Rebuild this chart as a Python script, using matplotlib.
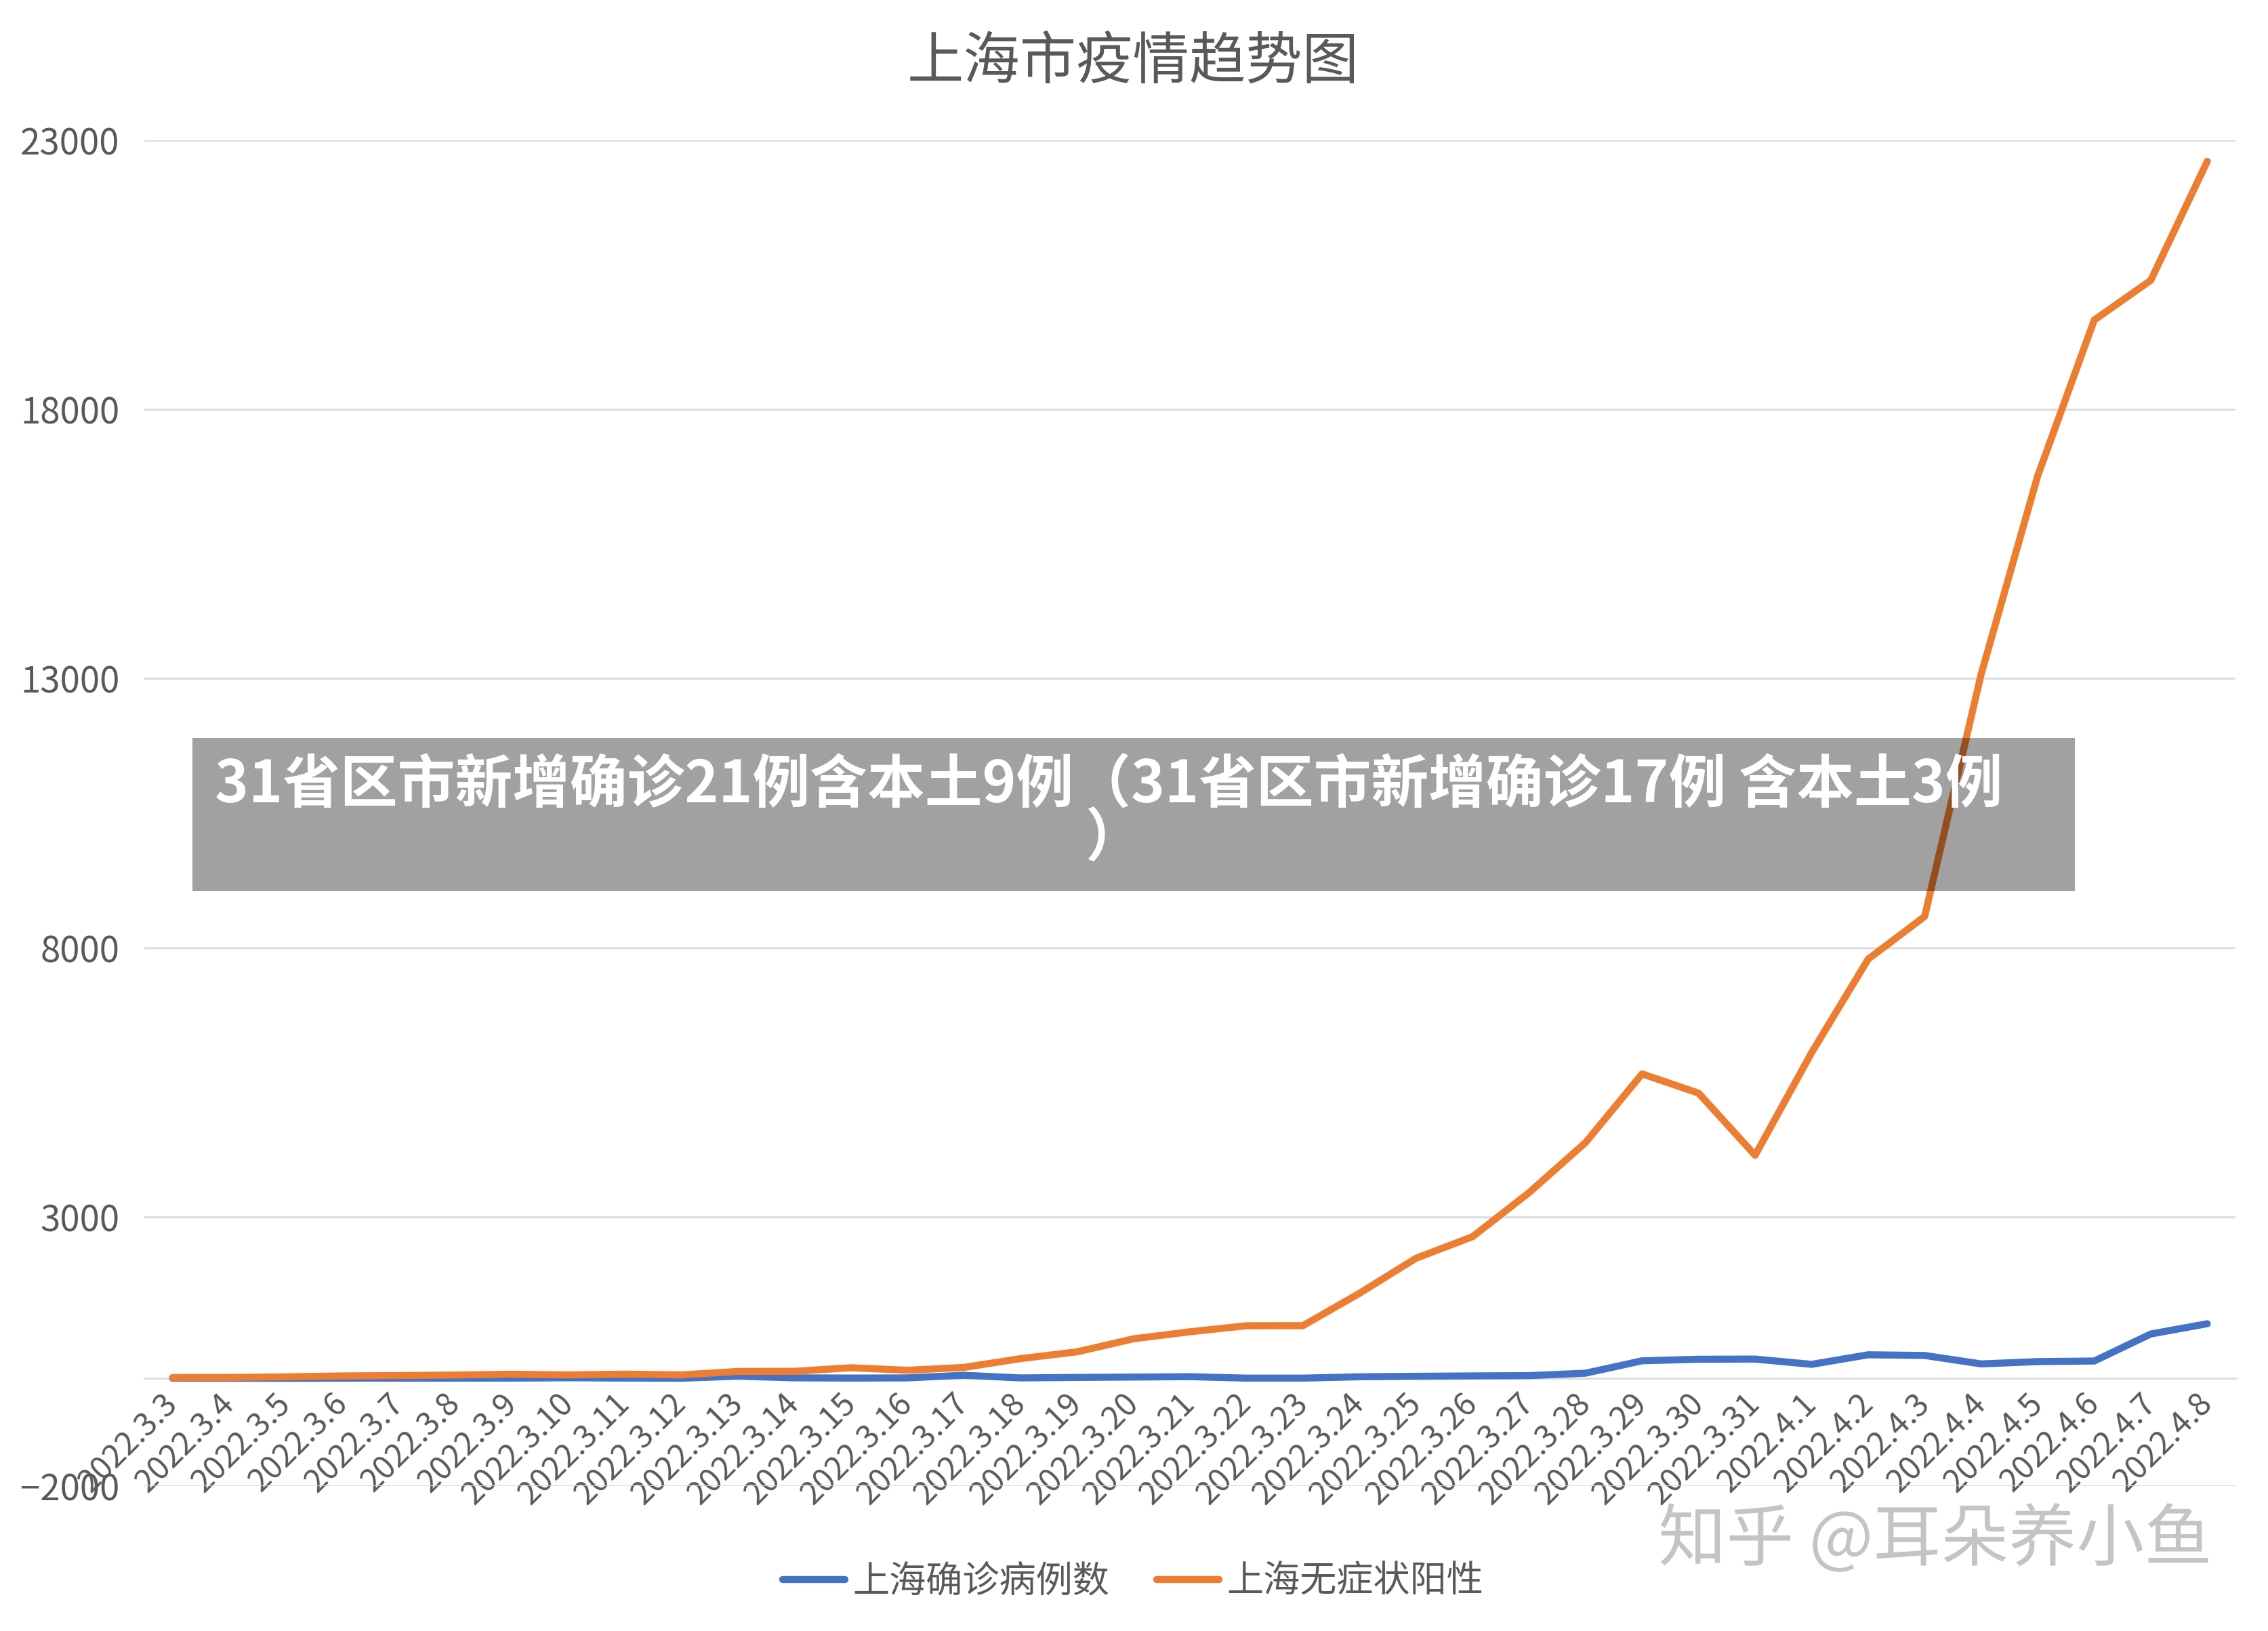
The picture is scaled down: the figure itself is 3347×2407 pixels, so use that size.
import matplotlib
matplotlib.use("Agg")
import matplotlib.pyplot as plt
from matplotlib.patches import Rectangle
import matplotlib.patheffects as pe

plt.rcParams['font.family'] = ['Noto Sans CJK SC', 'DejaVu Sans']

# data (Shanghai daily numbers, 2022.3.3 - 2022.4.8)
dates = ["2022.3.%d" % d for d in range(3, 32)] + ["2022.4.%d" % d for d in range(1, 9)]
confirmed = [3, 2, 0, 3, 4, 3, 4, 11, 5, 1, 41, 9, 5, 8, 57, 8, 17, 24, 31, 4, 4,
             29, 38, 45, 50, 96, 326, 355, 358, 260, 438, 425, 268, 311, 322, 824, 1015]
asymptomatic = [14, 16, 28, 45, 51, 62, 76, 64, 78, 64, 128, 130, 197, 150, 203, 366,
                492, 734, 865, 977, 979, 1580, 2231, 2631, 3450, 4381, 5656, 5298,
                4144, 6051, 7788, 8581, 13086, 16766, 19660, 20398, 22609]
yticks = [-2000, 3000, 8000, 13000, 18000, 23000]

title = "上海市疫情趋势图"
names = ["上海确诊病例数", "上海无症状阳性"]
banner1 = "31省区市新增确诊21例含本土9例（31省区市新增确诊17例 含本土3例"
banner2 = "）"
mark = "知乎 @耳朵养小鱼"

grey = '#595959'
fig = plt.figure(figsize=(33.48, 24.07), dpi=100)
ax = fig.add_axes([0.0636, 0.0889, 0.9218, 0.8251])

x = list(range(len(dates)))
ax.plot(x, confirmed, color='#4472C4', lw=7.5, solid_capstyle='round', label=names[0], zorder=3)
ax.plot(x, asymptomatic, color='#ED7D31', lw=7.5, solid_capstyle='round', label=names[1], zorder=3)

ax.set_xlim(-0.5, len(dates) - 0.5)
ax.set_ylim(-2000, 23000)
ax.set_yticks(yticks)
ax.yaxis.grid(True, color='#D9D9D9', lw=2)
ax.set_axisbelow(True)
for s in ['top', 'right', 'left']:
    ax.spines[s].set_visible(False)
ax.spines['bottom'].set_position(('data', 0))
ax.spines['bottom'].set_color('#D9D9D9')
ax.spines['bottom'].set_linewidth(2)

ax.set_xticks(x)
ax.set_xticklabels(dates, rotation=45, ha='right', va='center', rotation_mode='anchor')
ax.tick_params(axis='x', length=0, pad=22, labelsize=34, labelcolor=grey)
ax.tick_params(axis='y', length=0, pad=26, labelsize=38, labelcolor=grey)

fig.text(0.4994, 0.962, title, ha='center', va='center', fontsize=60, color=grey)

fig.legend(loc='center', bbox_to_anchor=(0.4994, 0.0303), ncol=2, frameon=False,
           fontsize=39, handlelength=1.7, columnspacing=1.3, handletextpad=0.2,
           labelcolor=grey)

# grey banner laid over the chart
fig.patches.append(Rectangle((0.0848, 0.4537), 0.8298, 0.0939, transform=fig.transFigure,
                             facecolor='black', alpha=0.37, edgecolor='none', zorder=10))
fig.text(0.4886, 0.5185, banner1, ha='center', va='center', fontsize=61,
         fontweight='bold', color='white', zorder=11)
fig.text(0.491, 0.4857, banner2, ha='center', va='center', fontsize=61,
         fontweight='bold', color='white', zorder=11)

# watermark
fig.text(0.853, 0.0553, mark, ha='center', va='center', fontsize=72, color='#C4C4C4',
         zorder=12, path_effects=[pe.withStroke(linewidth=4, foreground='white')])

fig.savefig("out.png", dpi=100)
